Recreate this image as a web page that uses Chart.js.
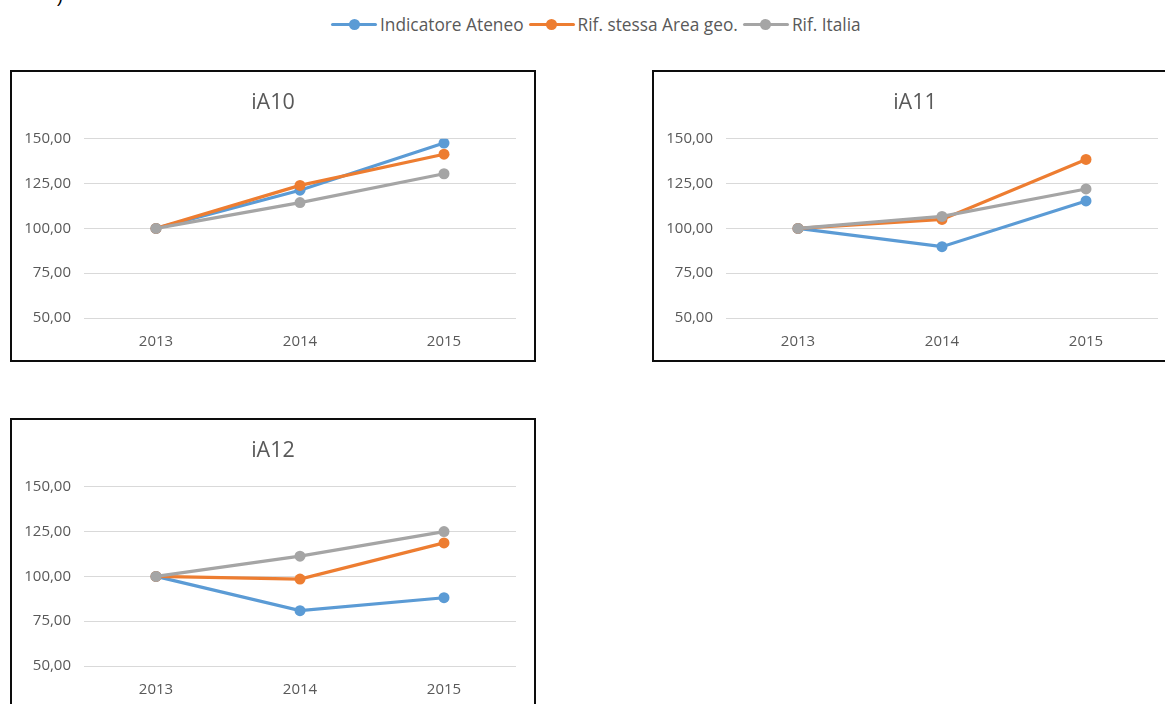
<!DOCTYPE html>
<html><head><meta charset="utf-8">
<script src="https://cdn.jsdelivr.net/npm/chart.js@4.4.1/dist/chart.umd.min.js"></script>
<style>
html,body{margin:0;padding:0;background:#fff;width:1165px;height:704px;overflow:hidden;position:relative;font-family:"Open Sans",Lato,sans-serif;}
.box{position:absolute;border:2px solid #0d0d0d;box-sizing:border-box;width:526px;height:292px;background:#fff;}
.box canvas{position:absolute;left:0;top:0;}
#legend{position:absolute;left:331px;top:12px;height:24px;display:flex;align-items:center;font-size:17.3px;color:#595959;white-space:nowrap;}
.item{display:flex;align-items:center;margin-right:5px;}
.mk{position:relative;width:46px;height:11px;margin-right:3px;}
.mk .ln{position:absolute;left:0;right:0;top:4px;height:3px;border-radius:1.5px;}
.mk .dt{position:absolute;left:17.5px;top:0;width:11px;height:11px;border-radius:50%;}
#frag{position:absolute;left:57px;top:-14px;font-size:18px;color:#000;font-family:"Liberation Sans",sans-serif;}
</style></head><body>
<div id="frag">)</div>
<div id="legend"></div>
<div class="box" style="left:10px;top:70px;"><canvas id="c1" width="522" height="288"></canvas></div>
<div class="box" style="left:652px;top:70px;"><canvas id="c2" width="522" height="288"></canvas></div>
<div class="box" style="left:10px;top:418px;"><canvas id="c3" width="522" height="288"></canvas></div>
<script>
const categories = ['2013', '2014', '2015'];
const seriesNames = ['Indicatore Ateneo', 'Rif. stessa Area geo.', 'Rif. Italia'];
const seriesColors = ['#5B9BD5', '#ED7D31', '#A5A5A5'];
const yTickValues = [50, 75, 100, 125, 150];
const chartTitles = ['iA10', 'iA11', 'iA12'];

const ia10Ateneo = [100, 121.3, 147.6];
const ia10Area   = [100, 124.0, 141.4];
const ia10Italia = [100, 114.4, 130.5];

const ia11Ateneo = [100, 89.8, 115.3];
const ia11Area   = [100, 105.0, 138.5];
const ia11Italia = [100, 106.7, 122.0];

const ia12Ateneo = [100, 80.9, 88.1];
const ia12Area   = [100, 98.5, 118.7];
const ia12Italia = [100, 111.3, 125.0];

// HTML legend
const legend = document.getElementById('legend');
seriesNames.forEach((n, i) => {
  const it = document.createElement('div'); it.className = 'item';
  it.innerHTML = '<div class="mk"><div class="ln" style="background:' + seriesColors[i] + '"></div><div class="dt" style="background:' + seriesColors[i] + '"></div></div><span>' + n + '</span>';
  legend.appendChild(it);
});

const FONT = '"Open Sans", Lato, sans-serif';
function makeChart(id, title, sets) {
  new Chart(document.getElementById(id), {
    type: 'line',
    data: {
      labels: categories,
      datasets: sets.map((d, i) => ({
        label: seriesNames[i],
        data: d,
        borderColor: seriesColors[i],
        backgroundColor: seriesColors[i],
        borderWidth: 3.2,
        pointRadius: 5.5,
        pointHoverRadius: 5.5,
        pointBorderWidth: 0,
        tension: 0,
        fill: false,
        order: 2 - i
      }))
    },
    options: {
      responsive: false,
      animation: false,
      layout: { padding: 0 },
      plugins: {
        legend: { display: false },
        tooltip: { enabled: false },
        title: {
          display: true, text: title, color: '#595959',
          font: { family: FONT, size: 21.5, weight: 'normal' },
          padding: { top: 18, bottom: 23 }
        }
      },
      scales: {
        x: {
          offset: true,
          grid: { display: false, drawTicks: false },
          border: { display: false },
          ticks: { color: '#595959', font: { family: FONT, size: 15 }, padding: 15, maxRotation: 0 },
          afterFit: s => { s.height = 42; }
        },
        y: {
          min: 50, max: 150,
          afterBuildTicks: s => { s.ticks = yTickValues.map(v => ({ value: v })); },
          grid: { color: '#D9D9D9', lineWidth: 1, drawTicks: false },
          border: { display: false },
          ticks: {
            color: '#595959', font: { family: FONT, size: 15 }, padding: 13,
            callback: v => v.toFixed(2).replace('.', ',')
          },
          afterFit: s => { s.width = 72; }
        },
        yRight: {
          position: 'right',
          min: 50, max: 150,
          grid: { display: false, drawTicks: false },
          border: { display: false },
          ticks: { display: false },
          afterFit: s => { s.width = 18; }
        }
      }
    }
  });
}
makeChart('c1', chartTitles[0], [ia10Ateneo, ia10Area, ia10Italia]);
makeChart('c2', chartTitles[1], [ia11Ateneo, ia11Area, ia11Italia]);
makeChart('c3', chartTitles[2], [ia12Ateneo, ia12Area, ia12Italia]);
</script>
</body></html>
